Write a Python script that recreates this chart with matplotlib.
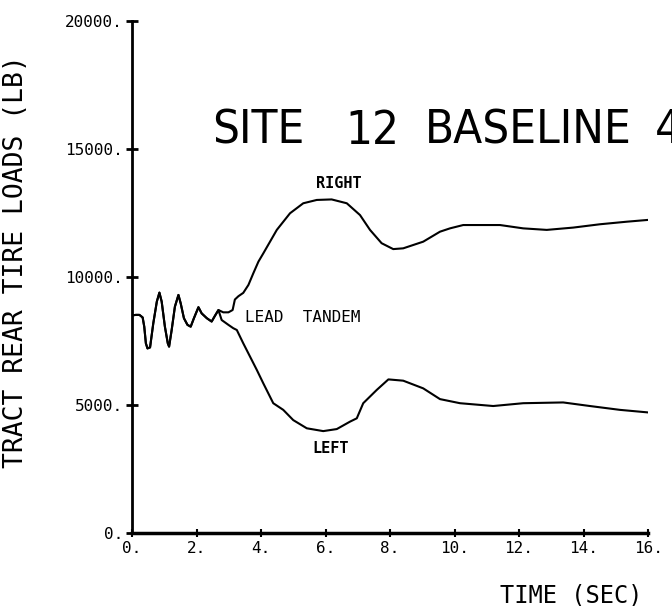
import numpy as np
import matplotlib
matplotlib.use("Agg")
import matplotlib.pyplot as plt

# shared start (both tandem tires move together at first)
osc_t = [0.0, 0.12, 0.23, 0.33, 0.38, 0.43, 0.48, 0.56, 0.66, 0.77, 0.85, 0.92,
         1.02, 1.11, 1.15, 1.23, 1.33, 1.44, 1.51, 1.61, 1.72, 1.82, 1.92, 2.06,
         2.16, 2.32, 2.47, 2.57, 2.68]
osc_y = [8500, 8520, 8520, 8420, 8060, 7410, 7210, 7250, 8190, 9040, 9390, 9040,
         8060, 7410, 7280, 7930, 8840, 9300, 8970, 8390, 8130, 8060, 8390, 8820,
         8580, 8390, 8260, 8480, 8710]

# right tire
right_t = [2.83, 2.99, 3.12, 3.19, 3.30, 3.45, 3.61, 3.76, 3.92, 4.07, 4.28, 4.49,
           4.90, 5.31, 5.73, 6.19, 6.66, 7.07, 7.38, 7.74, 8.10, 8.41, 9.03, 9.55,
           9.86, 10.27, 11.41, 12.13, 12.86, 13.68, 14.51, 15.34, 16.0]
right_y = [8620, 8620, 8710, 9120, 9250, 9380, 9690, 10140, 10600, 10920, 11380, 11840,
           12490, 12880, 13010, 13030, 12880, 12420, 11840, 11320, 11090, 11120, 11380, 11770,
           11900, 12030, 12030, 11900, 11840, 11930, 12060, 12160, 12230]

# left tire
left_t = [2.78, 2.99, 3.14, 3.25, 3.45, 3.66, 3.87, 4.07, 4.38, 4.69, 5.00, 5.42,
          5.93, 6.35, 6.76, 6.97, 7.17, 7.59, 7.95, 8.41, 9.03, 9.55, 10.17, 11.20,
          12.13, 13.37, 14.20, 15.13, 16.0]
left_y = [8320, 8130, 8000, 7930, 7410, 6890, 6370, 5850, 5070, 4810, 4410, 4090,
          3980, 4060, 4350, 4480, 5070, 5590, 6000, 5950, 5650, 5230, 5070, 4960,
          5070, 5100, 4960, 4810, 4710]

x_ticks = [0, 2, 4, 6, 8, 10, 12, 14, 16]
x_labels = ['0.', '2.', '4.', '6.', '8.', '10.', '12.', '14.', '16.']
y_ticks = [0, 5000, 10000, 15000, 20000]
y_labels = ['0.', '5000.', '10000.', '15000.', '20000.']

title_words = ['SITE', '12', 'BASELINE', '40']

mono = 'DejaVu Sans Mono'

fig = plt.figure(figsize=(6.72, 6.06), dpi=100)
ax = fig.add_axes([132 / 672, 1 - 533 / 606, 516 / 672, 512 / 606])

ax.plot(osc_t + right_t, osc_y + right_y, color='black', lw=1.5)
ax.plot(osc_t + left_t, osc_y + left_y, color='black', lw=1.5)

ax.set_xlim(0, 16)
ax.set_ylim(0, 20000)
for s in ['top', 'right']:
    ax.spines[s].set_visible(False)
ax.spines['left'].set_linewidth(2)
ax.spines['bottom'].set_linewidth(2.5)

ax.set_xticks(x_ticks)
ax.set_xticklabels(x_labels, fontfamily=mono, fontsize=11.5)
ax.set_yticks(y_ticks)
ax.set_yticklabels(y_labels, fontfamily=mono, fontsize=11.5)
ax.tick_params(axis='y', direction='inout', length=9, width=2, pad=2)
ax.tick_params(axis='x', direction='inout', length=6, width=1.5, pad=3)

ax.set_ylabel('TRACT REAR TIRE LOADS (LB)', fontfamily=mono, fontsize=19)
ax.yaxis.set_label_coords(-0.2, 0.53)
ax.set_xlabel('TIME (SEC)', fontfamily=mono, fontsize=17, ha='right')
ax.xaxis.set_label_coords(0.99, -0.098)

# curve annotations
ax.text(6.42, 13650, 'RIGHT', fontfamily=mono, fontsize=11, weight='bold',
        ha='center', va='center')
ax.text(6.17, 3320, 'LEFT', fontfamily=mono, fontsize=11, weight='bold',
        ha='center', va='center')
ax.text(3.5, 8400, 'LEAD  TANDEM', fontfamily=mono, fontsize=11.5,
        ha='left', va='center')

# hand-written note
word_x = [212, 345, 425, 655]
for w, px in zip(title_words, word_x):
    fig.text(px / 672, 1 - 131 / 606, w, fontsize=34, weight='light',
             fontstretch='condensed', ha='left', va='center')

fig.savefig('out.png', dpi=100)
